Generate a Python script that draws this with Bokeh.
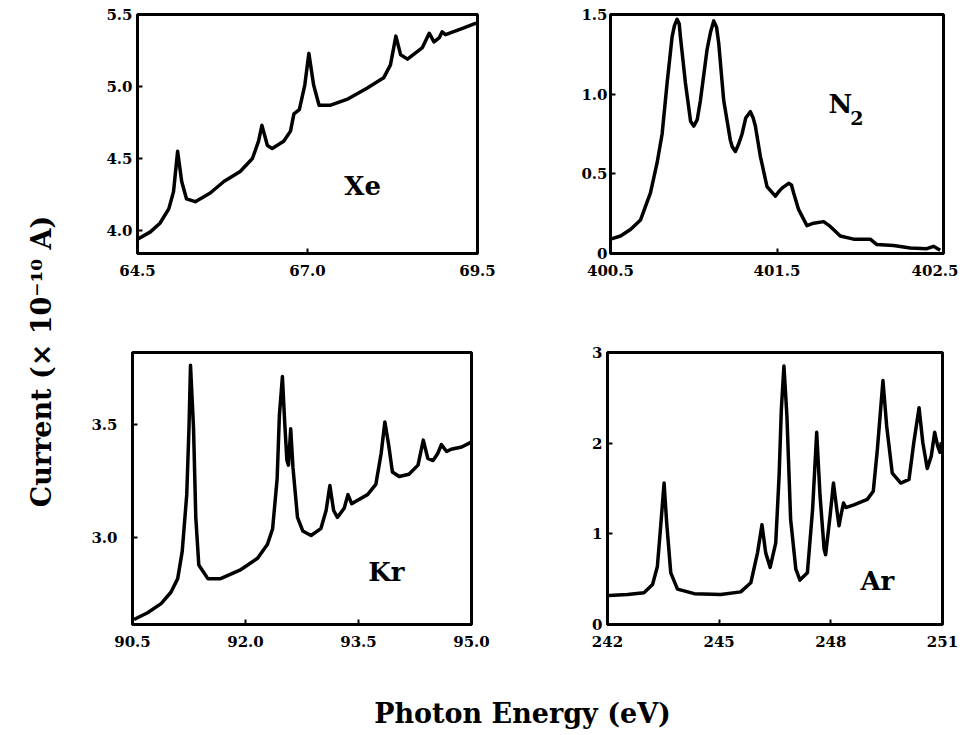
from bokeh.plotting import figure
from bokeh.layouts import row, column
from bokeh.models import Range1d, FixedTicker
from bokeh.core.properties import value
from bokeh.embed import file_html
from bokeh.resources import INLINE

FONT = "DejaVu Serif"

# ---------------- data ----------------
xe_energy = [64.50, 64.69, 64.83, 64.96, 65.03, 65.09, 65.15, 65.22, 65.35, 65.57, 65.77,
             66.01, 66.19, 66.28, 66.33, 66.41, 66.48, 66.65, 66.75, 66.80, 66.88, 66.96,
             67.02, 67.09, 67.17, 67.34, 67.58, 67.88, 68.12, 68.22, 68.30, 68.37, 68.47,
             68.69, 68.79, 68.86, 68.94, 68.98, 69.03, 69.26, 69.48]
xe_current = [3.94, 3.99, 4.05, 4.15, 4.27, 4.55, 4.34, 4.22, 4.20, 4.26, 4.34,
              4.41, 4.50, 4.62, 4.73, 4.59, 4.57, 4.62, 4.69, 4.81, 4.84, 5.01,
              5.23, 5.01, 4.87, 4.87, 4.91, 4.99, 5.06, 5.15, 5.35, 5.22, 5.19,
              5.27, 5.37, 5.31, 5.34, 5.38, 5.36, 5.40, 5.44]

n2_energy = [400.50, 400.56, 400.62, 400.68, 400.74, 400.78, 400.81, 400.84, 400.87, 400.884,
             400.90, 400.913, 400.92, 400.95, 400.981, 401.00, 401.021, 401.04, 401.08, 401.101,
             401.12, 401.137, 401.15, 401.18, 401.22, 401.231, 401.25, 401.271, 401.29, 401.312,
             401.34, 401.357, 401.37, 401.40, 401.44, 401.49, 401.512, 401.53, 401.57, 401.587,
             401.60, 401.63, 401.68, 401.72, 401.78, 401.82, 401.88, 401.96, 402.06, 402.10,
             402.20, 402.30, 402.40, 402.44, 402.48]
n2_current = [0.09, 0.11, 0.15, 0.21, 0.38, 0.57, 0.75, 1.07, 1.36, 1.43,
              1.47, 1.44, 1.36, 1.07, 0.83, 0.80, 0.84, 0.96, 1.28, 1.39,
              1.46, 1.42, 1.32, 0.96, 0.71, 0.67, 0.64, 0.69, 0.75, 0.85,
              0.89, 0.85, 0.80, 0.61, 0.42, 0.36, 0.39, 0.41, 0.44, 0.43,
              0.38, 0.275, 0.175, 0.19, 0.20, 0.17, 0.11, 0.09, 0.09, 0.056,
              0.05, 0.035, 0.03, 0.045, 0.02]

kr_energy = [90.52, 90.70, 90.88, 91.01, 91.10, 91.16, 91.22, 91.25, 91.27, 91.31,
             91.34, 91.38, 91.50, 91.67, 91.94, 92.16, 92.29, 92.36, 92.42, 92.45,
             92.49, 92.52, 92.55, 92.57, 92.60, 92.63, 92.69, 92.76, 92.87, 93.00,
             93.07, 93.12, 93.17, 93.22, 93.31, 93.36, 93.41, 93.46, 93.62, 93.73,
             93.80, 93.85, 93.90, 93.95, 94.04, 94.17, 94.29, 94.36, 94.42, 94.49,
             94.55, 94.60, 94.67, 94.73, 94.87, 94.99]
kr_current = [2.64, 2.67, 2.71, 2.76, 2.82, 2.94, 3.19, 3.485, 3.76, 3.485,
              3.09, 2.88, 2.82, 2.82, 2.86, 2.91, 2.97, 3.04, 3.26, 3.54,
              3.71, 3.51, 3.34, 3.32, 3.48, 3.31, 3.09, 3.03, 3.01, 3.04,
              3.12, 3.23, 3.12, 3.09, 3.13, 3.19, 3.15, 3.16, 3.19, 3.235,
              3.37, 3.51, 3.41, 3.29, 3.27, 3.28, 3.32, 3.43, 3.35, 3.34,
              3.37, 3.41, 3.38, 3.39, 3.40, 3.42]

ar_energy = [242.04, 242.54, 242.98, 243.21, 243.34, 243.43, 243.52, 243.59, 243.70, 243.88,
             244.33, 245.04, 245.58, 245.85, 246.03, 246.15, 246.25, 246.37, 246.52, 246.61,
             246.67, 246.74, 246.82, 246.92, 247.06, 247.17, 247.37, 247.51, 247.62, 247.71,
             247.82, 247.86, 247.98, 248.07, 248.16, 248.22, 248.27, 248.34, 248.40, 248.62,
             248.98, 249.14, 249.25, 249.40, 249.50, 249.65, 249.88, 250.10, 250.23, 250.37,
             250.47, 250.59, 250.70, 250.79, 250.87, 250.93, 250.97]
ar_current = [0.32, 0.33, 0.35, 0.44, 0.64, 1.09, 1.56, 1.12, 0.57, 0.39,
              0.34, 0.33, 0.36, 0.46, 0.79, 1.10, 0.79, 0.63, 0.90, 1.64,
              2.37, 2.85, 2.30, 1.16, 0.61, 0.49, 0.57, 1.27, 2.12, 1.42,
              0.83, 0.77, 1.20, 1.56, 1.27, 1.09, 1.20, 1.34, 1.29, 1.32,
              1.38, 1.47, 1.93, 2.69, 2.19, 1.67, 1.56, 1.60, 2.01, 2.39,
              2.01, 1.72, 1.86, 2.12, 1.97, 1.90, 2.01]

xe_xticks = [64.5, 67.0, 69.5]
xe_xlabels = ["64.5", "67.0", "69.5"]
xe_yticks = [4.0, 4.5, 5.0, 5.5]
xe_ylabels = ["4.0", "4.5", "5.0", "5.5"]

n2_xticks = [400.5, 401.5, 402.5]
n2_xlabels = ["400.5", "401.5", "402.5"]
n2_yticks = [0.0, 0.5, 1.0, 1.5]
n2_ylabels = ["0", "0.5", "1.0", "1.5"]

kr_xticks = [90.5, 92.0, 93.5, 95.0]
kr_xlabels = ["90.5", "92.0", "93.5", "95.0"]
kr_yticks = [3.0, 3.5]
kr_ylabels = ["3.0", "3.5"]

ar_xticks = [242, 245, 248, 251]
ar_xlabels = ["242", "245", "248", "251"]
ar_yticks = [0, 1, 2, 3]
ar_ylabels = ["0", "1", "2", "3"]

y_title = "Current (× 10⁻¹⁰ A)"
x_title = "Photon Energy (eV)"


def panel(xs, ys, xr, yr, xt, xl, yt, yl, bl, br, bt, bb, fw, fh, ystand):
    p = figure(width=bl + fw + br, height=bt + fh + bb,
               x_range=Range1d(*xr), y_range=Range1d(*yr),
               output_backend="svg", toolbar_location=None,
               min_border_left=bl, min_border_right=br,
               min_border_top=bt, min_border_bottom=bb)
    p.grid.visible = False
    p.outline_line_color = "black"
    p.outline_line_width = 3
    p.background_fill_color = "white"
    p.border_fill_color = "white"
    p.line(xs, ys, line_width=3.5, color="black", line_join="round")
    p.xaxis.ticker = FixedTicker(ticks=xt, minor_ticks=[])
    p.yaxis.ticker = FixedTicker(ticks=yt, minor_ticks=[])
    p.xaxis.major_label_overrides = {t: l for t, l in zip(xt, xl)}
    p.yaxis.major_label_overrides = {t: l for t, l in zip(yt, yl)}
    for ax in (p.xaxis, p.yaxis):
        ax.axis_line_width = 3
        ax.axis_line_color = "black"
        ax.major_tick_in = 5
        ax.major_tick_out = 0
        ax.major_tick_line_width = 2
        ax.minor_tick_line_color = None
        ax.major_label_text_font = FONT
        ax.major_label_text_font_style = "bold"
        ax.major_label_text_font_size = "15px"
        ax.major_label_text_color = "black"
    p.xaxis.major_label_standoff = 11
    p.yaxis.major_label_standoff = ystand
    return p


def label(p, x, y, txt, size="26px", align="center"):
    p.text(x=[x], y=[y], text=[txt], text_font=value(FONT), text_font_style="bold",
           text_font_size=size, text_align=align, text_baseline="middle", color="black")


p_xe = panel(xe_energy, xe_current, (64.5, 69.5), (3.84, 5.5), xe_xticks, xe_xlabels,
             xe_yticks, xe_ylabels, 59, 20, 14, 47, 340, 239, 5)
label(p_xe, 67.81, 4.31, "Xe")

p_n2 = panel(n2_energy, n2_current, (400.5, 402.5), (0, 1.5), n2_xticks, n2_xlabels,
             n2_yticks, n2_ylabels, 113, 15, 14, 47, 333, 239, 3)
label(p_n2, 401.81, 0.94, "N", align="left")
label(p_n2, 401.94, 0.85, "2", size="19px", align="left")

p_kr = panel(kr_energy, kr_current, (90.5, 95.0), (2.618, 3.816), kr_xticks, kr_xlabels,
             kr_yticks, kr_ylabels, 54, 20, 52, 44, 339, 272, 15)
label(p_kr, 93.87, 2.85, "Kr")

p_ar = panel(ar_energy, ar_current, (242, 251), (0, 3), ar_xticks, ar_xlabels,
             ar_yticks, ar_ylabels, 116, 16, 52, 44, 335, 272, 5)
label(p_ar, 249.25, 0.48, "Ar")


def blank(w, h):
    q = figure(width=w, height=h, x_range=Range1d(0, w), y_range=Range1d(0, h),
               output_backend="svg", toolbar_location=None,
               x_axis_location=None, y_axis_location=None, min_border=0)
    q.grid.visible = False
    q.outline_line_color = None
    q.background_fill_color = "white"
    q.border_fill_color = "white"
    return q


p_ylab = blank(78, 668)
p_ylab.text(x=[41], y=[307], text=[y_title], angle=1.5707963267948966,
            text_font=value(FONT), text_font_style="bold", text_font_size="27px",
            text_align="center", text_baseline="middle", color="black")

p_xlab = blank(958, 64)
p_xlab.text(x=[522], y=[19], text=[x_title],
            text_font=value(FONT), text_font_style="bold", text_font_size="27px",
            text_align="center", text_baseline="middle", color="black")

layout = column(row(p_ylab, column(row(p_xe, p_n2), row(p_kr, p_ar))), p_xlab)

open("out.html", "w").write(file_html(layout, INLINE))
